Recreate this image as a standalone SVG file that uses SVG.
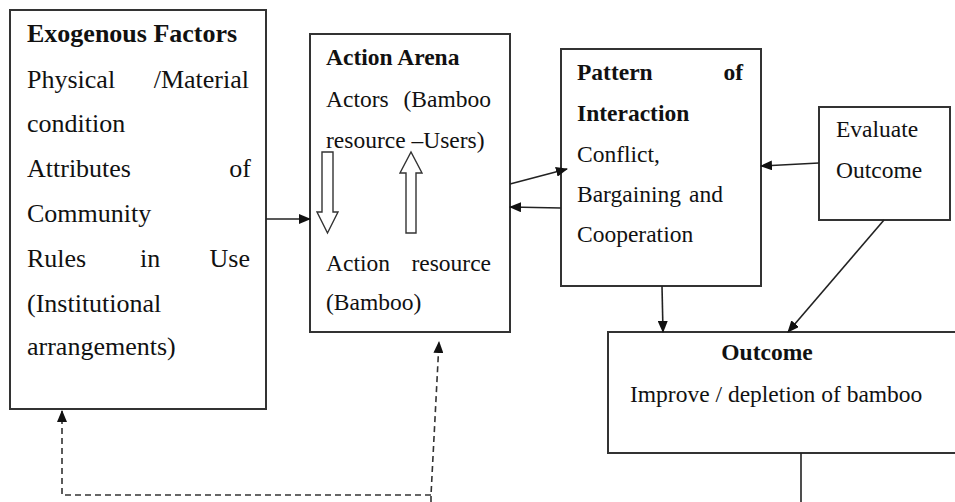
<svg xmlns="http://www.w3.org/2000/svg" width="955" height="502" viewBox="0 0 955 502">
<defs>
<marker id="ah" markerWidth="12" markerHeight="10" refX="11" refY="5" orient="auto" markerUnits="userSpaceOnUse">
<path d="M0,0 L12,5 L0,10 Z" fill="#111"/>
</marker>
<style>
.box{fill:#fff;stroke:#333;stroke-width:2}
.b{font-weight:bold}
.c{fill:none;stroke:#222;stroke-width:1.6}
.d{fill:none;stroke:#333;stroke-width:1.6;stroke-dasharray:6,4}
.h{fill:#fff;stroke:#333;stroke-width:1.4}
</style>
</defs>
<rect width="955" height="502" fill="#fff"/>
<g id="exogenous">
<rect class="box" x="10" y="10" width="256" height="399"/>
<g font-family="'Liberation Serif', 'Times New Roman', 'DejaVu Serif', serif" fill="#111" font-size="26">
<text x="27" y="42" class="b">Exogenous Factors</text>
<text x="27" y="88">Physical</text><text x="249" y="88" text-anchor="end">/Material</text>
<text x="27" y="132">condition</text>
<text x="27" y="177">Attributes</text><text x="251" y="177" text-anchor="end">of</text>
<text x="27" y="222">Community</text>
<text x="27" y="267">Rules</text><text x="140" y="267">in</text><text x="250" y="267" text-anchor="end">Use</text>
<text x="27" y="312">(Institutional</text>
<text x="27" y="355">arrangements)</text>
</g>
</g>
<g id="action-arena">
<rect class="box" x="310" y="34" width="200" height="298"/>
<g font-family="'Liberation Serif', 'Times New Roman', 'DejaVu Serif', serif" fill="#111" font-size="23.5">
<text x="326" y="65" class="b">Action Arena</text>
<text x="326" y="107">Actors</text><text x="491" y="107" text-anchor="end">(Bamboo</text>
<text x="326" y="148">resource –Users)</text>
<text x="326" y="271">Action</text><text x="491" y="271" text-anchor="end">resource</text>
<text x="326" y="310">(Bamboo)</text>
</g>
<path class="h" d="M322,152 L333,152 L333,212 L338,212 L327.5,233 L317,212 L322,212 Z"/>
<path class="h" d="M406,233 L416,233 L416,173 L422,173 L411,152 L400,173 L406,173 Z"/>
</g>
<g id="pattern">
<rect class="box" x="561" y="49" width="200" height="237"/>
<g font-family="'Liberation Serif', 'Times New Roman', 'DejaVu Serif', serif" fill="#111" font-size="23.5">
<text x="577" y="80" class="b">Pattern</text><text x="743" y="80" class="b" text-anchor="end">of</text>
<text x="577" y="121" class="b">Interaction</text>
<text x="577" y="162">Conflict,</text>
<text x="577" y="202">Bargaining</text><text x="723" y="202" text-anchor="end">and</text>
<text x="577" y="242">Cooperation</text>
</g>
</g>
<g id="evaluate">
<rect class="box" x="819" y="107" width="131" height="113"/>
<g font-family="'Liberation Serif', 'Times New Roman', 'DejaVu Serif', serif" fill="#111" font-size="23.5">
<text x="836" y="137">Evaluate</text>
<text x="836" y="178">Outcome</text>
</g>
</g>
<g id="outcome">
<path class="box" d="M960,332 L608,332 L608,453 L960,453"/>
<g font-family="'Liberation Serif', 'Times New Roman', 'DejaVu Serif', serif" fill="#111" font-size="23.5">
<text x="767" y="360" class="b" text-anchor="middle">Outcome</text>
<text x="630" y="402">Improve / depletion of bamboo</text>
</g>
</g>
<g id="connectors">
<line class="c" x1="266" y1="219" x2="310" y2="219" marker-end="url(#ah)"/>
<line class="c" x1="510" y1="184" x2="567" y2="169" marker-end="url(#ah)"/>
<line class="c" x1="561" y1="208" x2="510" y2="207" marker-end="url(#ah)"/>
<line class="c" x1="819" y1="163" x2="761" y2="166" marker-end="url(#ah)"/>
<line class="c" x1="662" y1="286" x2="663" y2="332" marker-end="url(#ah)"/>
<line class="c" x1="884" y1="220" x2="788" y2="332" marker-end="url(#ah)"/>
<line class="c" x1="801" y1="453" x2="801" y2="502"/>
<path class="d" d="M431,502 L431,495 L439,342" marker-end="url(#ah)"/>
<path class="d" d="M431,495 L62,495 L62,411" marker-end="url(#ah)"/>
</g>
</svg>
